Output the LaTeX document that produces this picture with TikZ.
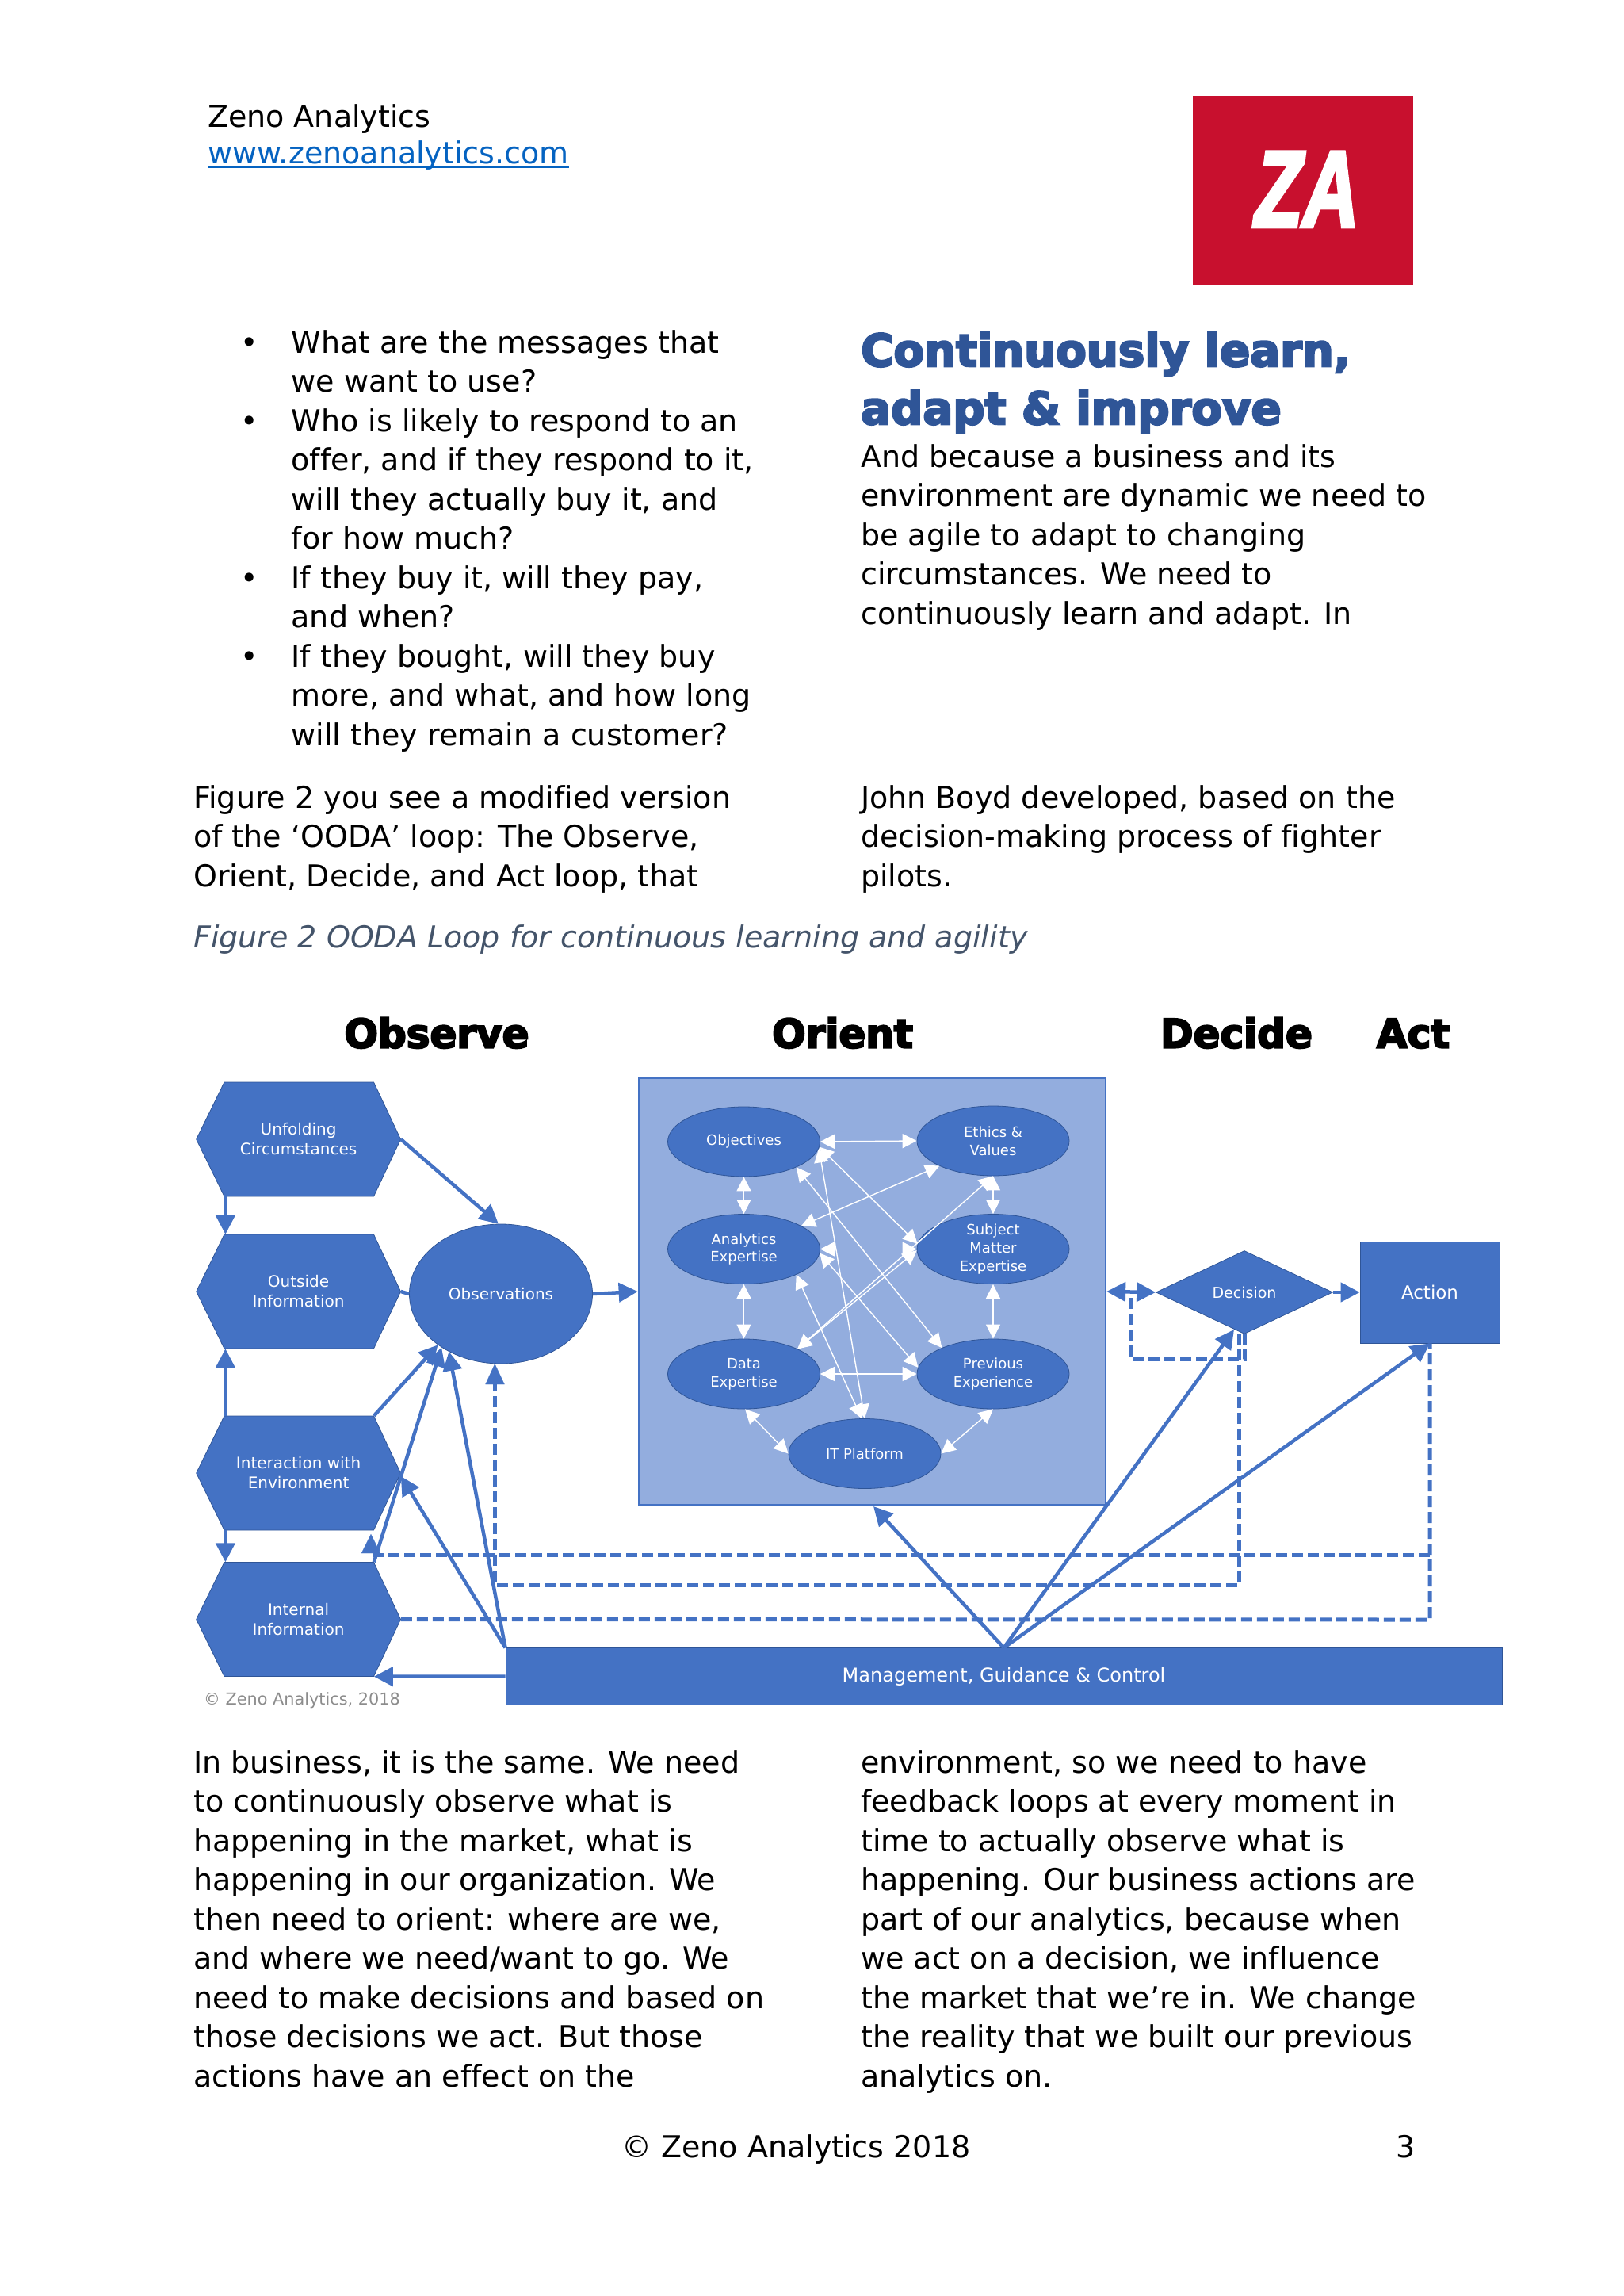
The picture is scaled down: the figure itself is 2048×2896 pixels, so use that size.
\documentclass[tikz,border=0pt]{standalone}
\usepackage{fontspec}
\setmainfont{DejaVu Sans}[Ligatures=NoCommon]
\newfontfamily\heavyf{DejaVu Sans Bold}[FakeBold=4.5]
\newfontfamily\logof{Liberation Sans Bold Italic}[FakeBold=3.5]
\usetikzlibrary{arrows.meta,shapes.geometric}
\definecolor{zblue}{HTML}{4472C4}
\definecolor{zedge}{HTML}{2F5597}
\definecolor{zpale}{HTML}{93ADDE}
\definecolor{zhead}{HTML}{2F5597}
\definecolor{zred}{HTML}{C8102E}
\definecolor{zlink}{HTML}{0563C1}
\definecolor{zcap}{HTML}{44546A}
\newcommand{\fsz}[2]{\fontsize{#1}{#2}\selectfont}
\tikzset{
 x=1pt,y=-1pt,
 para/.style={anchor=base west,inner sep=0,align=left,font=\fsz{38}{49.5}},
 shapetext/.style={text=white,align=center},
 hexn/.style={shapetext,inner sep=0,minimum width=258pt,minimum height=144pt,font=\fsz{20}{25}},
 hexfill/.style={fill=zblue,draw=zedge,line width=0.8pt},
 oval/.style={ellipse,shapetext,fill=zblue,draw=zedge,line width=0.8pt,inner sep=-12pt,minimum width=192pt,minimum height=88pt,font=\fsz{18}{22.7}},
 boxn/.style={rectangle,shapetext,fill=zblue,draw=zedge,line width=0.8pt,inner sep=0},
 heading/.style={inner sep=0,anchor=base,font=\heavyf\fsz{50}{50}},
 conn/.style={draw=zblue,line width=4.5pt,-{Triangle[length=24pt,width=24pt]}},
 connb/.style={draw=zblue,line width=4.5pt,{Triangle[length=24pt,width=24pt]}-{Triangle[length=24pt,width=24pt]}},
 dashl/.style={draw=zblue,line width=5pt,dash pattern=on 14pt off 6pt},
 wire/.style={draw=white,line width=1.4pt,{Triangle[length=18pt,width=18pt]}-{Triangle[length=18pt,width=18pt]}},
}
\begin{document}
\begin{tikzpicture}
\useasboundingbox (0,0) rectangle (2048,2896);
% header
\node[para] (hdr) at (262,160) {Zeno Analytics};
\node[para,text=zlink] (url) at (262,206) {www.zenoanalytics.com};
\draw[draw=zlink,line width=2.5pt] ([yshift=-5pt]url.base west) -- ([yshift=-5pt]url.base east);
\node[fill=zred,minimum width=278pt,minimum height=239pt,inner sep=0] (logobox) at (1644,240.5) {};
\node[inner sep=0,text=white,xscale=0.72,font=\logof\fsz{137}{137},anchor=base] (logotext) at (1649,286) {ZA};
% text columns
\node[para] (bul) at (367.5,940) {%
\llap{•\hspace{42pt}}What are the messages that\\
we want to use?\\
\llap{•\hspace{42pt}}Who is likely to respond to an\\
offer, and if they respond to it,\\
will they actually buy it, and\\
for how much?\\
\llap{•\hspace{42pt}}If they buy it, will they pay,\\
and when?\\
\llap{•\hspace{42pt}}If they bought, will they buy\\
more, and what, and how long\\
will they remain a customer?};
\node[inner sep=0,anchor=base west,align=left,text=zhead,font=\heavyf\fsz{56.2}{73}] (ttl) at (1086,535) {Continuously learn,\\adapt \& improve};
\node[para] (rtop) at (1086,787) {And because a business and its\\
environment are dynamic we need to\\
be agile to adapt to changing\\
circumstances. We need to\\
continuously learn and adapt. In};
\node[para] (fig) at (244,1118) {Figure 2 you see a modified version\\
of the ‘OODA’ loop: The Observe,\\
Orient, Decide, and Act loop, that};
\node[para] (boyd) at (1086,1118) {John Boyd developed, based on the\\
decision-making process of fighter\\
pilots.};
\node[para,text=zcap,font=\itshape\fsz{38}{49.5}] (cap) at (244,1195) {Figure 2 OODA Loop for continuous learning and agility};
\node[para] (bl) at (244,2632) {In business, it is the same. We need\\
to continuously observe what is\\
happening in the market, what is\\
happening in our organization. We\\
then need to orient: where are we,\\
and where we need/want to go. We\\
need to make decisions and based on\\
those decisions we act. But those\\
actions have an effect on the};
\node[para] (br) at (1086,2632) {environment, so we need to have\\
feedback loops at every moment in\\
time to actually observe what is\\
happening. Our business actions are\\
part of our analytics, because when\\
we act on a decision, we influence\\
the market that we’re in. We change\\
the reality that we built our previous\\
analytics on.};
\node[para] (foot) at (784,2721) {© Zeno Analytics 2018};
\node[para] (pg) at (1761,2721) {3};
% headings
\node[heading] (hobs) at (551,1321.5) {Observe};
\node[heading] (hori) at (1063,1321.5) {Orient};
\node[heading] (hdec) at (1560,1321.5) {Decide};
\node[heading] (hact) at (1783,1321.5) {Act};
% hexagons
\foreach \cy in {1437,1629,1858,2042.5}
  \draw[hexfill] (247.7,\cy) -- (283,\cy-72) -- (471.5,\cy-72) -- (505.5,\cy) -- (471.5,\cy+72) -- (283,\cy+72) -- cycle;
\node[hexn] (unf) at (376.6,1437) {\raisebox{-2pt}{Unfolding}\\\raisebox{-2pt}{Circumstances}};
\node[hexn] (out) at (376.6,1629) {\raisebox{-2pt}{Outside}\\\raisebox{-2pt}{Information}};
\node[hexn] (itr) at (376.6,1858) {\raisebox{-2pt}{Interaction with}\\\raisebox{-2pt}{Environment}};
\node[hexn] (int) at (376.6,2042.5) {\raisebox{-2pt}{Internal}\\\raisebox{-2pt}{Information}};
\node[oval,minimum width=231pt,minimum height=176pt,font=\fsz{20}{25}] (obs) at (632,1632) {Observations};
\node[boxn,fill=zpale,draw=zblue,line width=2.5pt,minimum width=589pt,minimum height=538pt] (ori) at (1100.4,1629) {};
\node[oval] (objv) at (938.5,1440) {Objectives};
\node[oval] (eth) at (1253,1439) {Ethics \&\\Values};
\node[oval] (ana) at (938.5,1575.5) {Analytics\\Expertise};
\node[oval] (sub) at (1253,1575.5) {Subject\\Matter\\Expertise};
\node[oval] (dat) at (938.5,1733) {Data\\Expertise};
\node[oval] (pre) at (1253,1733) {Previous\\Experience};
\node[oval] (itp) at (1091,1833.5) {IT Platform};
\node[diamond,shapetext,fill=zblue,draw=zedge,line width=0.8pt,inner sep=0,minimum width=223pt,minimum height=105pt,aspect=2.12,font=\fsz{19}{23}] (dec) at (1570,1630) {Decision};
\node[boxn,minimum width=176pt,minimum height=128pt,font=\fsz{23}{25}] (act) at (1804,1630) {Action};
\node[boxn,minimum width=1257pt,minimum height=71.5pt,font=\fsz{24}{25}] (bar) at (1266.5,2114.5) {Management, Guidance \& Control};
\node[inner sep=0,text=black!45,font=\fsz{20.8}{25}] (copy) at (381,2145) {© Zeno Analytics, 2018};
% white links in Orient
\draw[wire] (objv.east) -- (eth.west);
\draw[wire] (objv.south) -- (ana.north);
\draw[wire] (ana.south) -- (dat.north);
\draw[wire] (eth.south) -- (sub.north);
\draw[wire] (sub.south) -- (pre.north);
\draw[wire] (ana.22) -- (eth.205);
\draw[wire] (ana.east) -- (sub.west);
\draw[wire] (dat.east) -- (pre.west);
\draw[wire] (dat.25) -- (sub.181);
\draw[wire] (dat.25) -- (eth.270);
\draw[wire] (objv.-4) -- (sub.176);
\draw[wire] (objv.-26) -- (pre.153);
\draw[wire] (objv.-5) -- (itp.90);
\draw[wire] (ana.-3) -- (pre.175);
\draw[wire] (ana.-26) -- (itp.95);
\draw[wire] (dat.-88) -- (itp.180);
\draw[wire] (pre.-90) -- (itp.0);
% solid connectors
\draw[conn] (unf.east) -- (obs.92);
\draw[conn] ([xshift=37pt]unf.south west) -- ([xshift=37pt]out.north west);
\draw[conn] ([xshift=37pt]itr.north west) -- ([xshift=37pt]out.south west);
\draw[conn] ([xshift=37pt]itr.south west) -- ([xshift=37pt]int.north west);
\draw[draw=zblue,line width=4.5pt] (out.east) -- (obs.west);
\draw[conn] (obs.east) -- (ori.west);
\draw[conn] ([xshift=-34pt]itr.north east) -- (obs.219);
\draw[conn] ([xshift=-34pt]int.north east) -- (obs.222);
\draw[conn] (bar.north west) -- (obs.228);
\draw[conn] (bar.north west) -- ([yshift=-4pt]itr.east);
\draw[conn] (bar.west) -- ([xshift=-34pt]int.south east);
\draw[connb] (ori.east) -- (dec.west);
\draw[conn] (dec.east) -- (act.west);
\coordinate (oritip) at (1102,1900);
\coordinate (dectip) at (1557,1677);
\draw[conn] (bar.north) -- (oritip);
\draw[conn] (bar.north) -- (dectip);
\draw[conn] (bar.north) -- (act.south);
% dashed feedback
\coordinate (da) at (1804,1961);
\coordinate (db) at (468,1961);
\coordinate (dbt) at (468,1935);
\coordinate (dc) at (1804,2043);
\coordinate (dd) at (624.5,1999);
\coordinate (de) at (1563.6,1999);
\coordinate (dd2) at (624.5,1746);
\coordinate (de2) at (1563.6,1682);
\coordinate (df2) at (1570.7,1682);
\coordinate (df) at (1570.7,1714);
\coordinate (dg) at (1426,1714);
\coordinate (dh) at (1426,1632);
\draw[dashl] (da) -- (db);
\draw[draw=zblue,fill=zblue,line width=0.1pt] (dbt) -- (480,1959) -- (456,1959) -- cycle;
\draw[dashl] (int.east) -- (dc) -- (act.south);
\draw[dashl] (de2) -- (de) -- (dd) -- (dd2);
\draw[draw=zblue,fill=zblue,line width=0.1pt] (obs.265) -- (636.5,1746) -- (612.5,1746) -- cycle;
\draw[dashl] (df2) -- (df) -- (dg) -- (dh);
\end{tikzpicture}
\end{document}
